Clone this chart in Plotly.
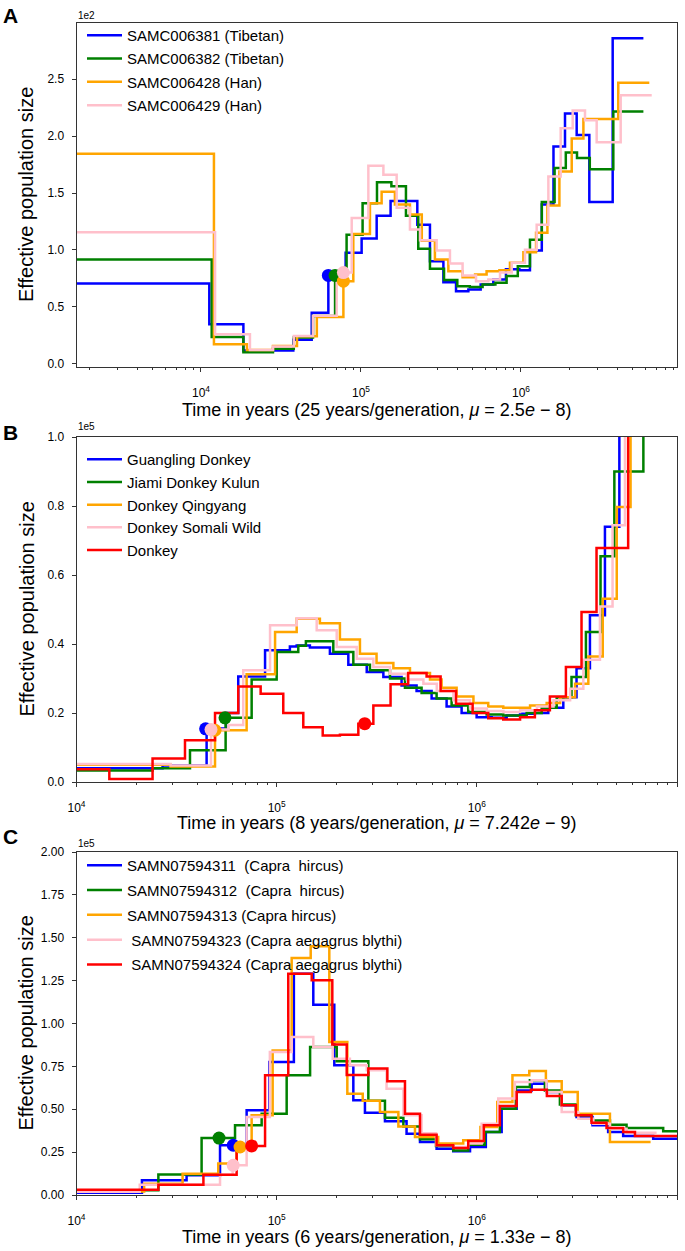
import numpy as np
import plotly.graph_objects as go

W, H = 685, 1251
FONT = "Liberation Sans, Arial, Helvetica, sans-serif"
COL = {"blue": "#0000ff", "green": "#008000", "orange": "#ffa500", "pink": "#ffc0cb", "red": "#ff0000"}

# ---------------- Panel A (Ne in units of 1e2; time boundaries as log10 years) -------------
A_names = ["SAMC006381 (Tibetan)", "SAMC006382 (Tibetan)", "SAMC006428 (Han)", "SAMC006429 (Han)"]
A_colors = ["blue", "green", "orange", "pink"]
A_blue_log10t = [3.222, 4.052, 4.265, 4.577, 4.692, 4.796, 4.904, 5.004, 5.098, 5.185, 5.352, 5.431, 5.515,
                 5.594, 5.671, 5.748, 5.827, 5.906, 5.990, 6.056, 6.130, 6.203, 6.275, 6.348, 6.427, 6.573, 6.765]
A_blue_ne = [0.705, 0.345, 0.115, 0.21, 0.447, 0.775, 0.974, 1.10, 1.30, 1.43, 1.22, 0.90, 0.716, 0.637, 0.652,
             0.696, 0.74, 0.83, 0.82, 0.994, 1.40, 1.91, 2.20, 2.01, 1.42, 2.86]
A_green_log10t = [3.222, 4.067, 4.265, 4.45, 4.58, 4.70, 4.838, 4.91, 5.01, 5.10, 5.19, 5.281, 5.358, 5.431,
                  5.519, 5.602, 5.68, 5.76, 5.84, 5.91, 5.98, 6.056, 6.13, 6.21, 6.28, 6.35, 6.43, 6.577, 6.765]
A_green_ne = [0.915, 0.234, 0.10, 0.13, 0.23, 0.418, 0.775, 1.134, 1.41, 1.594, 1.56, 1.30, 1.01, 0.833, 0.734,
              0.681, 0.673, 0.696, 0.71, 0.77, 0.857, 1.09, 1.42, 1.72, 1.857, 1.807, 1.71, 2.216]
A_orange_log10t = [3.222, 4.081, 4.287, 4.45, 4.60, 4.724, 4.89, 4.952, 5.056, 5.129, 5.212, 5.306, 5.38, 5.462,
                   5.546, 5.635, 5.713, 5.785, 5.865, 5.931, 6.015, 6.094, 6.165, 6.24, 6.317, 6.39, 6.608, 6.802]
A_orange_ne = [1.845, 0.17, 0.12, 0.155, 0.24, 0.41, 0.725, 1.14, 1.41, 1.51, 1.40, 1.31, 1.08, 0.915, 0.813,
               0.76, 0.784, 0.813, 0.82, 0.886, 0.98, 1.15, 1.39, 1.69, 1.98, 2.15, 2.47]
A_pink_log10t = [3.222, 4.088, 4.306, 4.45, 4.58, 4.70, 4.848, 4.942, 5.046, 5.14, 5.223, 5.306, 5.369, 5.473,
                 5.556, 5.635, 5.719, 5.796, 5.869, 5.942, 6.025, 6.098, 6.171, 6.248, 6.323, 6.40, 6.473, 6.623, 6.817]
A_pink_ne = [1.155, 0.257, 0.12, 0.15, 0.243, 0.42, 0.80, 1.28, 1.74, 1.66, 1.37, 1.18, 1.085, 0.994, 0.88,
             0.775, 0.725, 0.74, 0.80, 0.886, 1.0, 1.22, 1.646, 2.07, 2.225, 2.14, 1.947, 2.36]
A_dot_log10t = [4.796, 4.838, 4.89, 4.89]
A_dot_ne = [0.775, 0.775, 0.725, 0.80]

# ---------------- Panel B (Ne in units of 1e5) -------------
B_names = ["Guangling Donkey", "Jiami Donkey Kulun", "Donkey Qingyang", "Donkey Somali Wild", "Donkey"]
B_colors = ["blue", "green", "orange", "pink", "red"]
B_blue_log10t = [4.0, 4.43, 4.65, 4.747, 4.808, 4.942, 5.066, 5.10, 5.166, 5.266, 5.358, 5.45, 5.533, 5.624,
                 5.699, 5.774, 5.849, 5.924, 5.999, 6.074, 6.149, 6.216, 6.29, 6.357, 6.432, 6.498, 6.565, 6.64,
                 6.712, 6.85]
B_blue_ne = [0.04, 0.048, 0.155, 0.20, 0.306, 0.382, 0.393, 0.396, 0.39, 0.372, 0.34, 0.319, 0.304, 0.28, 0.264,
             0.242, 0.219, 0.20, 0.188, 0.186, 0.193, 0.198, 0.20, 0.215, 0.246, 0.33, 0.483, 0.74, 1.3]
B_green_log10t = [4.0, 4.38, 4.567, 4.745, 4.875, 5.0, 5.108, 5.146, 5.283, 5.383, 5.466, 5.566, 5.641, 5.724,
                  5.799, 5.874, 5.957, 6.049, 6.132, 6.249, 6.324, 6.399, 6.473, 6.545, 6.618, 6.687, 6.832, 6.95]
B_green_ne = [0.033, 0.04, 0.092, 0.186, 0.297, 0.377, 0.395, 0.408, 0.377, 0.34, 0.324, 0.30, 0.273, 0.258,
              0.242, 0.222, 0.203, 0.196, 0.193, 0.20, 0.215, 0.246, 0.304, 0.435, 0.654, 0.90, 1.3]
B_orange_log10t = [4.0, 4.47, 4.692, 4.85, 4.992, 5.1, 5.216, 5.316, 5.416, 5.499, 5.583, 5.666, 5.766, 5.824,
                   5.899, 5.983, 6.057, 6.132, 6.266, 6.349, 6.416, 6.491, 6.557, 6.629, 6.699, 6.768, 6.9]
B_orange_ne = [0.05, 0.045, 0.15, 0.312, 0.435, 0.473, 0.46, 0.413, 0.372, 0.345, 0.33, 0.316, 0.297, 0.273,
               0.248, 0.229, 0.219, 0.215, 0.222, 0.229, 0.246, 0.285, 0.364, 0.531, 0.797, 1.3]
B_pink_log10t = [4.0, 4.47, 4.672, 4.76, 4.833, 4.967, 5.1, 5.2, 5.3, 5.4, 5.483, 5.566, 5.65, 5.733, 5.8, 5.883,
                 5.966, 6.05, 6.133, 6.216, 6.3, 6.383, 6.466, 6.532, 6.615, 6.678, 6.74, 6.9]
B_pink_ne = [0.052, 0.048, 0.152, 0.165, 0.324, 0.454, 0.475, 0.44, 0.391, 0.357, 0.333, 0.314, 0.297, 0.285,
             0.264, 0.237, 0.213, 0.206, 0.203, 0.208, 0.219, 0.237, 0.27, 0.354, 0.509, 0.744, 1.3]
B_red_log10t = [4.0, 4.164, 4.38, 4.542, 4.692, 4.808, 4.92, 5.033, 5.133, 5.23, 5.316, 5.408, 5.483, 5.569,
                5.657, 5.749, 5.819, 5.896, 5.979, 6.057, 6.132, 6.216, 6.29, 6.365, 6.445, 6.523, 6.598, 6.756, 6.9]
B_red_ne = [0.037, 0.009, 0.068, 0.121, 0.20, 0.277, 0.256, 0.20, 0.159, 0.135, 0.137, 0.169, 0.222, 0.283,
            0.316, 0.306, 0.264, 0.227, 0.20, 0.185, 0.181, 0.188, 0.208, 0.248, 0.333, 0.493, 0.678, 1.3]
B_dot_log10t = [4.645, 4.742, 4.692, 4.672, 5.44]
B_dot_ne = [0.154, 0.186, 0.15, 0.152, 0.169]

# ---------------- Panel C (Ne in units of 1e5) -------------
C_names = ["SAMN07594311  (Capra  hircus)", "SAMN07594312  (Capra  hircus)", "SAMN07594313 (Capra hircus)",
           " SAMN07594323 (Capra aegagrus blythi)", " SAMN07594324 (Capra aegagrus blythi)"]
C_colors = ["blue", "green", "orange", "pink", "red"]
C_blue_log10t = [4.0, 4.327, 4.55, 4.717, 4.85, 4.963, 5.086, 5.183, 5.288, 5.383, 5.441, 5.541, 5.649, 5.716,
                 5.799, 5.882, 5.966, 6.045, 6.124, 6.199, 6.274, 6.348, 6.423, 6.498, 6.578, 6.656, 6.731, 6.881, 7.0]
C_blue_ne = [0.0136, 0.0855, 0.115, 0.29, 0.494, 0.776, 1.29, 1.11, 0.756, 0.552, 0.48, 0.43, 0.357, 0.309,
             0.27, 0.255, 0.28, 0.367, 0.503, 0.61, 0.649, 0.60, 0.523, 0.455, 0.406, 0.367, 0.344, 0.328]
C_green_log10t = [4.0, 4.32, 4.409, 4.625, 4.792, 4.925, 5.05, 5.167, 5.30, 5.458, 5.541, 5.633, 5.716, 5.796,
                  5.882, 5.957, 6.04, 6.115, 6.195, 6.265, 6.34, 6.415, 6.495, 6.573, 6.665, 6.748, 6.931, 7.0]
C_green_ne = [0.019, 0.027, 0.12, 0.332, 0.406, 0.474, 0.698, 0.863, 0.78, 0.55, 0.45, 0.40, 0.325, 0.286, 0.26,
              0.293, 0.367, 0.503, 0.63, 0.669, 0.61, 0.527, 0.465, 0.435, 0.41, 0.39, 0.371]
C_orange_log10t = [4.0, 4.338, 4.53, 4.708, 4.80, 4.875, 4.98, 5.075, 5.17, 5.263, 5.353, 5.43, 5.516, 5.608,
                   5.691, 5.807, 5.932, 6.018, 6.102, 6.178, 6.262, 6.345, 6.424, 6.504, 6.665, 6.868]
C_orange_ne = [0.02, 0.066, 0.124, 0.183, 0.28, 0.465, 0.843, 1.382, 1.45, 0.892, 0.591, 0.55, 0.484, 0.40,
               0.338, 0.30, 0.319, 0.396, 0.542, 0.698, 0.723, 0.663, 0.60, 0.474, 0.309]
C_pink_log10t = [4.0, 4.316, 4.717, 4.78, 4.85, 4.966, 5.075, 5.183, 5.28, 5.366, 5.45, 5.549, 5.633, 5.724,
                 5.796, 5.882, 5.957, 6.024, 6.107, 6.19, 6.274, 6.348, 6.424, 6.507, 6.582, 6.665, 6.748, 6.898]
C_pink_ne = [0.019, 0.06, 0.118, 0.173, 0.455, 0.834, 0.921, 0.863, 0.795, 0.756, 0.727, 0.62, 0.465, 0.36, 0.29,
             0.28, 0.30, 0.416, 0.562, 0.659, 0.669, 0.60, 0.484, 0.445, 0.416, 0.387, 0.363]
C_red_log10t = [4.0, 4.409, 4.634, 4.80, 4.942, 5.058, 5.175, 5.278, 5.35, 5.458, 5.553, 5.641, 5.716, 5.799,
                5.882, 5.957, 6.035, 6.115, 6.199, 6.27, 6.35, 6.424, 6.495, 6.573, 6.648, 6.731, 6.79, 7.0]
C_red_ne = [0.03, 0.06, 0.118, 0.286, 0.698, 1.29, 1.252, 0.877, 0.70, 0.737, 0.663, 0.474, 0.352, 0.29, 0.274,
            0.315, 0.406, 0.519, 0.60, 0.614, 0.577, 0.523, 0.465, 0.422, 0.39, 0.367, 0.344]
C_dot_log10t = [4.783, 4.712, 4.817, 4.783, 4.875]
C_dot_ne = [0.29, 0.332, 0.28, 0.173, 0.286]

PANELS = [
    dict(names=A_names, colors=A_colors,
         series=[(A_blue_log10t, A_blue_ne), (A_green_log10t, A_green_ne),
                 (A_orange_log10t, A_orange_ne), (A_pink_log10t, A_pink_ne)],
         dots=(A_dot_log10t, A_dot_ne)),
    dict(names=B_names, colors=B_colors,
         series=[(B_blue_log10t, B_blue_ne), (B_green_log10t, B_green_ne), (B_orange_log10t, B_orange_ne),
                 (B_pink_log10t, B_pink_ne), (B_red_log10t, B_red_ne)],
         dots=(B_dot_log10t, B_dot_ne)),
    dict(names=C_names, colors=C_colors,
         series=[(C_blue_log10t, C_blue_ne), (C_green_log10t, C_green_ne), (C_orange_log10t, C_orange_ne),
                 (C_pink_log10t, C_pink_ne), (C_red_log10t, C_red_ne)],
         dots=(C_dot_log10t, C_dot_ne)),
]

fig = go.Figure()
for p, panel in enumerate(PANELS):
    sfx = "" if p == 0 else str(p + 1)
    for k, ((lt, ne), name, c) in enumerate(zip(panel["series"], panel["names"], panel["colors"])):
        x = 10 ** np.array(lt)
        y = list(ne) + [ne[-1]]
        fig.add_trace(go.Scatter(x=x, y=y, mode="lines", line=dict(color=COL[c], width=2.5, shape="hv"),
                                 name=name, xaxis="x" + sfx, yaxis="y" + sfx, legend="legend" + sfx,
                                 legendgroup="p%d_%d" % (p, k)))
    for k, c in enumerate(panel["colors"]):
        fig.add_trace(go.Scatter(x=[10 ** panel["dots"][0][k]], y=[panel["dots"][1][k]], mode="markers",
                                 marker=dict(color=COL[c], size=13), showlegend=False,
                                 xaxis="x" + sfx, yaxis="y" + sfx))

def px2x(px):
    return px / W

def py2y(py):
    return 1 - py / H

XDOM = [px2x(76.5), px2x(677)]
frame = dict(showline=True, linecolor="#333333", linewidth=1, mirror=True, showgrid=False, zeroline=False,
             automargin=False,
             ticks="outside", ticklen=4, tickcolor="#333333", tickfont=dict(family=FONT, size=12, color="black"))

def xaxis(rng, tickexp, ydom_anchor):
    return dict(frame, type="log", range=rng, domain=XDOM, anchor=ydom_anchor,
                tickvals=[10 ** e for e in tickexp], ticktext=["10<sup>%d</sup>" % e for e in tickexp],
                ticklabelstandoff=11,
                minor=dict(ticks="outside", ticklen=2, tickcolor="#333333", dtick="D1", showgrid=False))

fig.update_layout(
    template="none",
    width=W, height=H, autosize=False, margin=dict(l=0, r=0, t=0, b=0, pad=0, autoexpand=False),
    paper_bgcolor="white", plot_bgcolor="white", font=dict(family=FONT, color="black"),
    xaxis=xaxis([3.222, 6.975], [4, 5, 6], "y"),
    xaxis2=xaxis([4, 7], [4, 5, 6, 7], "y2"),
    xaxis3=xaxis([4, 7], [4, 5, 6, 7], "y3"),
    yaxis=dict(frame, domain=[py2y(367), py2y(23)], range=[-0.03, 2.995], anchor="x",
               tickvals=[0, 0.5, 1.0, 1.5, 2.0, 2.5], tickformat=".1f", ticklabelstandoff=5),
    yaxis2=dict(frame, domain=[py2y(782), py2y(437)], range=[0, 1.0], anchor="x2",
                tickvals=[0, 0.2, 0.4, 0.6, 0.8, 1.0], tickformat=".1f", ticklabelstandoff=5),
    yaxis3=dict(frame, domain=[py2y(1195), py2y(852)], range=[0, 2.0], anchor="x3",
                tickvals=[0, 0.25, 0.5, 0.75, 1.0, 1.25, 1.5, 1.75, 2.0], tickformat=".2f", ticklabelstandoff=5),
)

legend_common = dict(xanchor="left", yanchor="top", bgcolor="rgba(0,0,0,0)", borderwidth=0, itemwidth=35,
                     font=dict(family=FONT, size=15, color="black"), traceorder="grouped")
fig.update_layout(
    legend=dict(legend_common, x=px2x(82), y=py2y(19), tracegroupgap=0.8),
    legend2=dict(legend_common, x=px2x(82), y=py2y(443), tracegroupgap=0.2),
    legend3=dict(legend_common, x=px2x(82), y=py2y(849), tracegroupgap=2.3),
)

ann = []
def add_text(text, x, y, size, xanchor="center", angle=0):
    ann.append(dict(text=text, x=px2x(x), y=py2y(y), xref="paper", yref="paper", xanchor=xanchor,
                    yanchor="middle", textangle=angle, showarrow=False,
                    font=dict(family=FONT, size=size, color="black")))

for letter, yy in [("A", 15), ("B", 432), ("C", 837)]:
    add_text("<b>%s</b>" % letter, 10, yy, 21)
for txt, yy in [("1e2", 15), ("1e5", 426), ("1e5", 843)]:
    add_text(txt, 76, yy, 10, xanchor="left")
xtitles = [("Time in years (25 years/generation, <i>μ</i> = 2.5<i>e</i> − 8)", 410),
           ("Time in years (8 years/generation, <i>μ</i> = 7.242<i>e</i> − 9)", 823),
           ("Time in years (6 years/generation, <i>μ</i> = 1.33<i>e</i> − 8)", 1237)]
for txt, yy in xtitles:
    add_text(txt, 376.5, yy, 18)
for yy in [195, 609.5, 1023.5]:
    add_text("Effective population size", 26, yy, 20, angle=-90)
fig.update_layout(annotations=ann)

# Remove the browser's default 8px body margin so the figure sits at the page's top-left corner.
fig.write_html("out.html", config={"displayModeBar": False},
               post_script="document.body.style.margin='0px';")
